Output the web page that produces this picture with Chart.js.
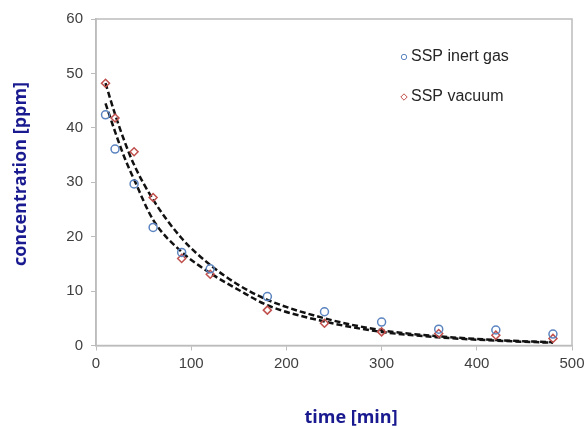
<!DOCTYPE html>
<html>
<head>
<meta charset="utf-8">
<script src="https://cdn.jsdelivr.net/npm/chart.js@4/dist/chart.umd.min.js"></script>
<style>
  html, body { margin: 0; padding: 0; background: #fff; }
  #wrap { width: 585px; height: 429px; }
</style>
</head>
<body>
<div id="wrap"><canvas id="concChart" width="585" height="429"></canvas></div>
<script>
// measured points
const timeMin = [10, 20, 40, 60, 90, 120, 180, 240, 300, 360, 420, 480];
const inertGas = [42.4, 36.1, 29.7, 21.7, 17.1, 14.1, 9.0, 6.2, 4.3, 3.0, 2.85, 2.1];
const vacuum = [48.2, 41.8, 35.6, 27.2, 16.0, 13.1, 6.5, 4.1, 2.5, 2.2, 1.9, 1.3];

// dashed fit curves
const fitTime = [10, 20, 30, 40, 60, 90, 120, 150, 180, 240, 300, 360, 420, 480];
const fitInert = [44.5, 39.3, 34.5, 30.5, 23.1, 17.2, 13.3, 10.2, 7.4, 4.4, 2.5, 1.5, 0.9, 0.5];
const fitVacuum = [48.2, 42.5, 37.5, 33.2, 26.8, 19.7, 14.8, 11.1, 8.4, 5.0, 2.8, 1.7, 1.0, 0.6];

const xTicks = [0, 100, 200, 300, 400, 500];
const yTicks = [0, 10, 20, 30, 40, 50, 60];

function pts(xs, ys) {
  return xs.map((x, i) => ({ x: x, y: ys[i] }));
}

const titleBlue = '#1a1a90';

// box around plot area + axis titles + legend
const extras = {
  id: 'extras',
  afterDraw(chart) {
    const ctx = chart.ctx;
    const a = chart.chartArea;
    ctx.save();
    ctx.strokeStyle = '#bcbcbc';
    ctx.lineWidth = 1.5;
    ctx.strokeRect(a.left, a.top, a.right - a.left, a.bottom - a.top);

    ctx.fillStyle = titleBlue;
    ctx.font = 'bold 18px "Open Sans"';
    ctx.textAlign = 'center';
    ctx.textBaseline = 'middle';
    ctx.fillText('time [min]', 351, 418);
    ctx.translate(21, 174);
    ctx.rotate(-Math.PI / 2);
    ctx.fillText('concentration [ppm]', 0, 0);
    ctx.restore();

    // legend
    ctx.save();
    ctx.font = '16px "Liberation Sans"';
    ctx.fillStyle = '#262626';
    ctx.textBaseline = 'middle';
    ctx.textAlign = 'left';
    const items = [chart.data.datasets[0], chart.data.datasets[1]];
    items.forEach((ds, i) => {
      const y = 57 + i * 40;
      ctx.strokeStyle = ds.borderColor;
      ctx.lineWidth = 1;
      if (ds.pointStyle === 'circle') {
        ctx.beginPath();
        ctx.arc(404, y, 2.7, 0, Math.PI * 2);
        ctx.stroke();
      } else {
        ctx.beginPath();
        ctx.moveTo(404, y - 3.2); ctx.lineTo(407.2, y); ctx.lineTo(404, y + 3.2); ctx.lineTo(400.8, y);
        ctx.closePath();
        ctx.stroke();
      }
      ctx.fillText(ds.label, 411, y);
    });
    ctx.restore();
  }
};

const ctx = document.getElementById('concChart').getContext('2d');
const concChart = new Chart(ctx, {
  type: 'scatter',
  data: {
    datasets: [
      {
        label: 'SSP inert gas',
        data: pts(timeMin, inertGas),
        pointStyle: 'circle',
        borderColor: '#5b84c0',
        backgroundColor: 'rgba(0,0,0,0)',
        pointRadius: 4,
        pointBorderWidth: 1.5,
        order: 1
      },
      {
        label: 'SSP vacuum',
        data: pts(timeMin, vacuum),
        pointStyle: 'rectRot',
        borderColor: '#c0504d',
        backgroundColor: 'rgba(0,0,0,0)',
        pointRadius: 4,
        pointBorderWidth: 1.5,
        order: 1
      },
      {
        label: 'fit inert',
        type: 'line',
        data: pts(fitTime, fitInert),
        borderColor: '#111',
        borderWidth: 2.5,
        borderDash: [6, 3],
        pointRadius: 0,
        fill: false,
        cubicInterpolationMode: 'monotone',
        order: 2
      },
      {
        label: 'fit vacuum',
        type: 'line',
        data: pts(fitTime, fitVacuum),
        borderColor: '#111',
        borderWidth: 2.5,
        borderDash: [6, 3],
        pointRadius: 0,
        fill: false,
        cubicInterpolationMode: 'monotone',
        order: 2
      }
    ]
  },
  options: {
    responsive: false,
    animation: false,
    layout: { padding: { left: 0, right: 13, top: 19, bottom: 0 } },
    plugins: {
      legend: { display: false },
      tooltip: { enabled: false }
    },
    scales: {
      x: {
        type: 'linear',
        min: 0,
        max: 500,
        afterFit: s => { s.height = 83.5; s.paddingLeft = 0; s.paddingRight = 0; },
        afterBuildTicks: s => { s.ticks = xTicks.map(v => ({ value: v })); },
        grid: { drawOnChartArea: false, drawTicks: true, tickLength: 5, tickColor: '#bcbcbc' },
        border: { color: '#bcbcbc', width: 1.5 },
        ticks: { color: '#404040', font: { family: '"Liberation Sans"', size: 15 }, padding: 4 }
      },
      y: {
        type: 'linear',
        min: 0,
        max: 60,
        afterFit: s => { s.width = 96; s.paddingTop = 0; s.paddingBottom = 0; },
        afterBuildTicks: s => { s.ticks = yTicks.map(v => ({ value: v })); },
        grid: { drawOnChartArea: false, drawTicks: true, tickLength: 5, tickColor: '#bcbcbc' },
        border: { color: '#bcbcbc', width: 1.5 },
        ticks: { color: '#404040', font: { family: '"Liberation Sans"', size: 15 }, padding: 8 }
      }
    }
  },
  plugins: [extras]
});
</script>
</body>
</html>
